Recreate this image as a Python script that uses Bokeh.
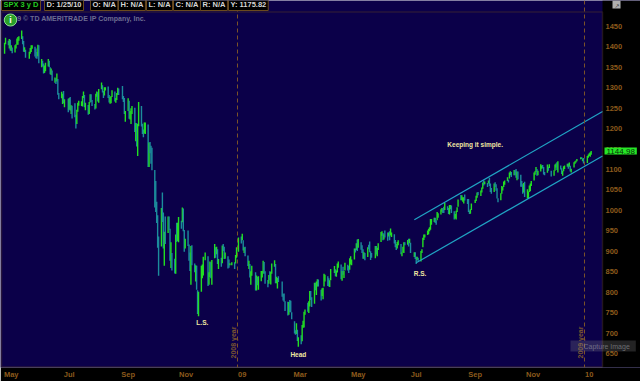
import numpy as np
import pandas as pd
from bokeh.plotting import figure
from bokeh.models import ColumnDataSource, FixedTicker, Span, Label, Range1d, BoxAnnotation
from bokeh.embed import file_html
from bokeh.resources import INLINE

# ---------------- data (SPX daily bars) ----------------
holidays = ["2008-05-26", "2008-07-04", "2008-09-01", "2008-11-27", "2008-12-25",
            "2009-01-01", "2009-01-19", "2009-02-16", "2009-04-10", "2009-05-25",
            "2009-07-03", "2009-09-07", "2009-11-26", "2009-12-25", "2010-01-01"]
first_day = "2008-05-01"
last_day = "2010-01-08"

close_2008 = [
    1409, 1413, 1407, 1418, 1392, 1397, 1388, 1403, 1403, 1408, 1423, 1425, 1426, 1413, 1390, 1394, 1375, 1385, 1390, 1398, 1400,
    1385, 1378, 1377, 1404, 1361, 1362, 1358, 1336, 1339, 1360, 1360, 1350, 1337, 1342, 1318, 1318, 1315, 1322, 1283, 1278, 1280,
    1285, 1262, 1262, 1253, 1274, 1245, 1254, 1240, 1229, 1215, 1245, 1260, 1261, 1261, 1278, 1282, 1253, 1257, 1235, 1264, 1284, 1267,
    1260, 1249, 1285, 1290, 1267, 1297, 1306, 1290, 1286, 1293, 1298, 1279, 1267, 1275, 1278, 1292, 1267, 1271, 1281, 1300, 1283,
    1277, 1275, 1237, 1242, 1268, 1225, 1232, 1250, 1252, 1193, 1214, 1156, 1207, 1255, 1208, 1189, 1186, 1210, 1213, 1106, 1166,
    1161, 1115, 1099, 1056, 996, 985, 910, 899, 1003, 998, 908, 946, 940, 985, 955, 897, 908, 876, 848, 941, 930, 954, 969,
    966, 1006, 953, 905, 930, 919, 898, 853, 912, 873, 850, 859, 807, 752, 800, 852, 857, 887, 896,
    816, 848, 870, 845, 876, 909, 888, 899, 873, 879, 868, 913, 904, 885, 887, 871, 863, 869, 873, 869, 890, 903,
]
high_2008 = [
    1410, 1422, 1415, 1419, 1417, 1404, 1398, 1404, 1406, 1420, 1424, 1426, 1440, 1426, 1414, 1399, 1393, 1388, 1397, 1404, 1404,
    1400, 1396, 1387, 1405, 1404, 1370, 1366, 1359, 1354, 1361, 1370, 1366, 1350, 1347, 1342, 1325, 1323, 1335, 1321, 1287, 1290,
    1285, 1292, 1272, 1273, 1275, 1277, 1257, 1256, 1262, 1234, 1246, 1263, 1268, 1267, 1280, 1291, 1282, 1263, 1258, 1265, 1284, 1284,
    1270, 1260, 1285, 1291, 1289, 1297, 1313, 1306, 1292, 1301, 1301, 1303, 1282, 1277, 1280, 1294, 1291, 1275, 1287, 1300, 1298,
    1304, 1280, 1275, 1243, 1274, 1268, 1243, 1250, 1255, 1251, 1214, 1213, 1211, 1265, 1255, 1212, 1198, 1215, 1215, 1210, 1166,
    1167, 1158, 1153, 1099, 1072, 1021, 988, 936, 1006, 1044, 995, 948, 985, 985, 985, 955, 922, 896, 882, 941, 970, 970, 984,
    975, 1007, 1005, 952, 931, 951, 917, 897, 913, 915, 870, 866, 865, 805, 801, 865, 868, 887, 897,
    888, 849, 875, 873, 879, 918, 910, 911, 905, 881, 884, 914, 918, 911, 897, 888, 880, 871, 873, 873, 891, 910,
]
low_2008 = [
    1383, 1406, 1404, 1396, 1391, 1390, 1384, 1386, 1396, 1405, 1405, 1415, 1419, 1406, 1388, 1387, 1373, 1371, 1383, 1387, 1395,
    1376, 1372, 1371, 1377, 1360, 1350, 1352, 1335, 1336, 1340, 1352, 1350, 1333, 1331, 1317, 1312, 1309, 1315, 1283, 1272, 1274,
    1260, 1262, 1252, 1240, 1246, 1244, 1236, 1225, 1228, 1200, 1211, 1241, 1256, 1255, 1254, 1275, 1252, 1245, 1234, 1236, 1264, 1265,
    1255, 1247, 1249, 1278, 1266, 1263, 1296, 1288, 1275, 1281, 1293, 1275, 1264, 1261, 1262, 1277, 1266, 1263, 1270, 1282, 1282,
    1272, 1265, 1236, 1217, 1243, 1224, 1222, 1211, 1236, 1192, 1169, 1156, 1133, 1206, 1205, 1187, 1179, 1188, 1187, 1106, 1106,
    1140, 1114, 1098, 1007, 996, 969, 909, 840, 912, 972, 907, 865, 918, 945, 952, 877, 859, 853, 846, 845, 923, 925, 922,
    955, 971, 949, 899, 907, 913, 877, 852, 818, 866, 849, 826, 806, 747, 741, 801, 834, 841, 878,
    815, 818, 837, 834, 818, 883, 884, 893, 869, 857, 862, 871, 901, 881, 882, 858, 860, 866, 866, 857, 870, 884,
]
close_2009 = [
    931, 927, 935, 907, 910, 891, 871, 872, 842, 844, 850, 805, 840, 828, 832, 836, 845, 874, 845, 826,
    825, 838, 832, 845, 869, 870, 827, 833, 835, 827, 789, 788, 779, 770, 743, 773, 765, 752, 735,
    700, 696, 712, 682, 683, 677, 720, 721, 751, 757, 753, 778, 795, 785, 768, 823, 807, 813, 832, 816, 787, 798,
    811, 834, 843, 835, 815, 826, 857, 858, 842, 852, 866, 870, 833, 850, 843, 851, 866, 858, 855, 873, 873,
    878, 907, 903, 919, 907, 929, 909, 908, 883, 893, 882, 909, 908, 903, 888, 887, 911, 893, 906, 919,
    942, 945, 931, 942, 940, 939, 942, 940, 944, 946, 923, 911, 910, 918, 921, 893, 895, 900, 920, 918, 927, 919,
    923, 896, 898, 881, 879, 882, 879, 901, 905, 932, 940, 940, 951, 954, 955, 976, 979, 982, 979, 975, 986, 987,
    1003, 1005, 1002, 997, 1010, 1007, 994, 1006, 1012, 1004, 979, 990, 996, 1007, 1026, 1025, 1028, 1028, 1031, 1029, 1021,
    998, 995, 1003, 1016, 1025, 1033, 1044, 1042, 1049, 1053, 1068, 1065, 1068, 1064, 1071, 1060, 1050, 1044, 1062, 1060, 1057,
    1029, 1025, 1040, 1054, 1057, 1065, 1071, 1076, 1073, 1092, 1096, 1087, 1098, 1091, 1081, 1092, 1080, 1066, 1063, 1042, 1067, 1036,
    1042, 1045, 1046, 1066, 1069, 1093, 1093, 1098, 1087, 1094, 1110, 1110, 1109, 1094, 1091, 1106, 1105, 1110, 1091, 1096,
    1109, 1109, 1100, 1105, 1104, 1091, 1095, 1102, 1106, 1114, 1107, 1110, 1097, 1102, 1114, 1118, 1120, 1126, 1128, 1126, 1126, 1115,
]
high_2009 = [
    934, 936, 943, 927, 910, 911, 890, 877, 869, 851, 865, 849, 841, 838, 839, 852, 852, 877, 874, 851,
    830, 842, 851, 850, 870, 878, 869, 838, 835, 839, 826, 796, 797, 778, 777, 776, 781, 779, 751,
    729, 707, 724, 708, 690, 695, 720, 730, 752, 758, 774, 778, 803, 803, 788, 823, 823, 826, 832, 831, 806, 810,
    811, 845, 843, 839, 834, 829, 857, 864, 856, 853, 870, 875, 868, 852, 862, 852, 872, 867, 864, 883, 888,
    880, 907, 907, 920, 929, 930, 922, 915, 905, 898, 896, 910, 916, 924, 900, 896, 913, 913, 909, 920,
    947, 949, 945, 942, 951, 946, 946, 949, 956, 946, 942, 928, 918, 923, 927, 918, 898, 911, 922, 922, 928, 931,
    931, 921, 898, 898, 887, 887, 884, 901, 905, 933, 941, 941, 951, 955, 959, 979, 979, 982, 982, 976, 996, 993,
    1003, 1006, 1006, 1009, 1018, 1010, 1006, 1013, 1013, 1012, 998, 991, 999, 1008, 1027, 1038, 1037, 1032, 1032, 1039, 1028,
    1028, 1000, 1003, 1017, 1026, 1036, 1044, 1045, 1049, 1056, 1068, 1074, 1071, 1067, 1073, 1080, 1066, 1055, 1066, 1069, 1064,
    1054, 1030, 1042, 1060, 1058, 1071, 1073, 1081, 1075, 1093, 1096, 1094, 1099, 1098, 1101, 1095, 1095, 1087, 1072, 1064, 1067, 1070,
    1052, 1046, 1061, 1066, 1072, 1093, 1096, 1106, 1101, 1097, 1113, 1110, 1111, 1106, 1094, 1112, 1107, 1113, 1097, 1098,
    1112, 1115, 1118, 1120, 1110, 1103, 1097, 1108, 1110, 1114, 1115, 1117, 1109, 1102, 1118, 1120, 1122, 1126, 1130, 1130, 1127, 1128,
]
low_2009 = [
    899, 919, 927, 902, 896, 888, 864, 857, 836, 818, 840, 804, 804, 817, 806, 827, 836, 846, 845, 821,
    812, 821, 829, 819, 845, 862, 822, 822, 809, 825, 789, 780, 777, 754, 743, 745, 751, 751, 734,
    699, 696, 698, 681, 667, 673, 680, 713, 714, 745, 752, 749, 765, 781, 764, 772, 805, 793, 814, 814, 780, 791,
    783, 814, 826, 815, 814, 813, 829, 847, 839, 838, 848, 860, 832, 828, 843, 835, 853, 853, 847, 855, 868,
    866, 880, 897, 903, 901, 909, 904, 896, 882, 882, 878, 886, 905, 898, 879, 884, 883, 892, 888, 903,
    923, 938, 927, 929, 934, 926, 936, 927, 939, 935, 919, 910, 903, 907, 915, 893, 888, 897, 896, 915, 916, 912,
    920, 896, 886, 881, 869, 879, 875, 875, 896, 910, 928, 934, 940, 942, 949, 953, 965, 972, 969, 965, 976, 982,
    990, 997, 994, 994, 1001, 1001, 991, 990, 1003, 994, 978, 980, 978, 996, 1009, 1025, 1025, 1021, 1017, 1024, 1016,
    996, 991, 992, 1001, 1018, 1023, 1031, 1037, 1035, 1044, 1053, 1061, 1064, 1057, 1066, 1060, 1045, 1041, 1045, 1057, 1048,
    1029, 1020, 1025, 1041, 1049, 1057, 1063, 1072, 1068, 1078, 1086, 1082, 1086, 1086, 1080, 1074, 1076, 1058, 1058, 1041, 1044, 1033,
    1029, 1030, 1045, 1047, 1060, 1073, 1087, 1094, 1085, 1086, 1095, 1102, 1103, 1088, 1086, 1092, 1097, 1104, 1083, 1085,
    1097, 1105, 1099, 1093, 1100, 1089, 1085, 1096, 1101, 1107, 1102, 1107, 1095, 1093, 1105, 1114, 1117, 1120, 1125, 1126, 1120, 1115,
]
close_2010 = [1133, 1137, 1137, 1142, 1145]
high_2010 = [1133, 1137, 1140, 1142, 1145]
low_2010 = [1116, 1129, 1133, 1131, 1136]

# trend channel drawn on the chart
upper_dates = ["2009-07-06", "2010-01-20"]
upper_vals = [977, 1242]
lower_dates = ["2009-07-08", "2010-01-20"]
lower_vals = [872, 1133]

# axis ticks
month_starts = ["2008-05-01", "2008-07-01", "2008-09-01", "2008-11-01", "2009-01-01", "2009-03-01",
                "2009-05-01", "2009-07-01", "2009-09-01", "2009-11-01", "2010-01-01"]
month_labels = ["May", "Jul", "Sep", "Nov", "09", "Mar", "May", "Jul", "Sep", "Nov", "10"]
y_ticks = [650, 700, 750, 800, 850, 900, 950, 1000, 1050, 1100, 1150, 1200, 1250, 1300, 1350, 1400, 1450]
year_lines = ["2009-01-01", "2010-01-01"]
year_texts = ["2008 year", "2009 year"]

# annotations
ann_texts = ["L.S.", "Head", "R.S.", "Keeping it simple."]
ann_dates = ["2008-11-25", "2009-03-06", "2009-07-12", "2009-09-08"]
ann_vals = [725, 648, 846, 1160]

header_texts = ["SPX 3 y D", "D: 1/25/10", "O: N/A", "H: N/A", "L: N/A", "C: N/A", "R: N/A", "Y: 1175.82"]
last_price_text = "1144.98"
last_price = 1144.98

# ---------------- styling ----------------
BG = "#0b0049"
BROWN = "#6b4a1e"
AXIS_COL = "#8c5a1c"
UP = "#22e022"
DOWN = "#1c8c9c"
CHANNEL = "#20a4c4"
ANN = "#efe7a2"
FONT = "Liberation Sans"

origin = pd.Timestamp("2009-01-01")


def day(s):
    return float((pd.Timestamp(s) - origin).days)


days = pd.bdate_range(first_day, last_day)
days = days[~days.isin(pd.to_datetime(holidays))]
x = (days - origin).days.to_numpy().astype(float)

closes = np.array(close_2008 + close_2009 + close_2010, dtype=float)
highs = np.array(high_2008 + high_2009 + high_2010, dtype=float)
lows = np.array(low_2008 + low_2009 + low_2010, dtype=float)
prev = np.concatenate([[closes[0]], closes[:-1]])
colors = np.where(closes >= prev, UP, DOWN)

src = ColumnDataSource(dict(x=x, high=highs, low=lows, close=closes, color=colors))

W, H = 640, 381
FB = 12
frame_h = H - FB
px_per_day = 347.0 / 365.0
x0 = -237.0 / px_per_day
x1 = x0 + W / px_per_day
y0, y1 = 616.0, 1513.2
px_per_val = frame_h / (y1 - y0)


def xpx(px):
    return x0 + px / px_per_day


def ypx(py):
    return y1 - py / px_per_val


p = figure(width=W, height=H, x_range=Range1d(x0, x1), y_range=Range1d(y0, y1),
           output_backend="svg", toolbar_location=None, y_axis_location="right",
           min_border_left=0, min_border_right=0, min_border_top=0, min_border_bottom=FB,
           background_fill_color=BG, border_fill_color="black", outline_line_color=None)
p.xgrid.visible = False
p.ygrid.visible = False

# black strip for the price scale (right of the chart area)
p.add_layout(BoxAnnotation(left=xpx(602), fill_color="black", fill_alpha=1.0,
                           line_color=None, level="underlay"))

# price bars
p.segment(x0="x", y0="low", x1="x", y1="high", source=src, line_color="color", line_width=1.4)

# channel
p.line([day(d) for d in upper_dates], upper_vals, line_color=CHANNEL, line_width=1.2)
p.line([day(d) for d in lower_dates], lower_vals, line_color=CHANNEL, line_width=1.2)

# year separators
for d, t in zip(year_lines, year_texts):
    p.add_layout(Span(location=day(d), dimension="height", line_color="#7a5228",
                      line_dash="4 3", line_width=1))
    p.add_layout(Label(x=day(d) - 4.3, y=677, text=t, angle=np.pi / 2, text_align="center",
                       text_baseline="middle", text_color="#7a5530", text_font_size="7px",
                       text_font=FONT, text_font_style="bold"))

# chart border (left, right, bottom, header separator)
p.add_layout(BoxAnnotation(left=xpx(1), right=xpx(602), bottom=ypx(368.5), top=ypx(11.5),
                           fill_alpha=0, line_color=BROWN, line_width=1.5))

# x axis
tick_pos = []
for d, lab in zip(month_starts, month_labels):
    half_px = 6.5 if len(lab) == 3 else 4.5
    tick_pos.append(int(round(day(d) + half_px / px_per_day)))
p.xaxis.ticker = FixedTicker(ticks=tick_pos)
p.xaxis.major_label_overrides = {t: lab for t, lab in zip(tick_pos, month_labels)}

# y axis (price scale sitting on the chart's right border)
p.yaxis.ticker = FixedTicker(ticks=y_ticks)
p.yaxis.fixed_location = xpx(602)
for ax in (p.xaxis[0], p.yaxis[0]):
    ax.axis_line_color = None
    ax.major_tick_line_color = None
    ax.minor_tick_line_color = None
    ax.major_tick_out = 0
    ax.major_tick_in = 0
    ax.major_label_text_color = AXIS_COL
    ax.major_label_text_font = FONT
    ax.major_label_text_font_size = "7.5px"
    ax.major_label_text_font_style = "bold"
p.xaxis.major_label_standoff = 2
p.yaxis.major_label_standoff = 3

# annotations
for t, d, v in zip(ann_texts, ann_dates, ann_vals):
    p.add_layout(Label(x=day(d), y=v, text=t, text_align="center", text_baseline="middle",
                       text_color=ANN, text_font=FONT, text_font_size="6.5px",
                       text_font_style="bold"))

# last price tag
p.add_layout(Label(x=604, y=last_price, x_units="screen", y_units="data",
                   text=last_price_text, text_align="left", text_baseline="middle",
                   text_color="#063006", text_font=FONT, text_font_size="8px",
                   background_fill_color="#26e626",
                   padding=dict(left=2, right=2, top=1, bottom=1)))

# header cells
cell_left = [0, 43, 89, 117, 145, 172, 199, 227]
for i, (t, cl) in enumerate(zip(header_texts, cell_left)):
    p.add_layout(Label(x=cl + 1, y=frame_h - 5.5, x_units="screen", y_units="screen",
                       text=t, text_align="left", text_baseline="middle",
                       text_color="#22cc22" if i == 0 else "#d6d6d6", text_font=FONT,
                       text_font_size="7.5px", text_font_style="bold",
                       background_fill_color="black", border_line_color=BROWN,
                       border_line_width=1, padding=2))

# copyright text + info icon
p.add_layout(Label(x=5, y=frame_h - 20, x_units="screen", y_units="screen",
                   text="2009 \u00a9 TD AMERITRADE IP Company, Inc.", text_align="left",
                   text_baseline="middle", text_color="#6c6c90", text_font=FONT,
                   text_font_size="7px", text_font_style="bold"))
p.add_layout(Label(x=10, y=frame_h - 21.5, x_units="screen", y_units="screen",
                   text="i", text_align="center", text_baseline="middle",
                   text_color="white", text_font=FONT, text_font_size="9px",
                   text_font_style="bold", background_fill_color="#2aa02a",
                   border_line_color="#8fe08f", border_radius=6,
                   padding=dict(left=5, right=5, top=1, bottom=1)))

# top-right tool icon
p.add_layout(Label(x=612, y=frame_h - 6, x_units="screen", y_units="screen",
                   text="\u2197", text_align="left", text_baseline="middle",
                   text_color="#333333", text_font="DejaVu Sans", text_font_size="6px",
                   background_fill_color="#b0b0b0",
                   padding=dict(left=2, right=1, top=1, bottom=0)))

# capture image overlay
p.add_layout(Label(x=570, y=frame_h - 347.5, x_units="screen", y_units="screen",
                   text="Capture Image", text_align="left", text_baseline="middle",
                   text_color="#a0a0a8", text_alpha=0.6, text_font=FONT,
                   text_font_size="7px", background_fill_color="#8a8a90",
                   background_fill_alpha=0.25,
                   padding=dict(left=13, right=6, top=2, bottom=2)))

open("out.html", "w").write(file_html(p, INLINE))
